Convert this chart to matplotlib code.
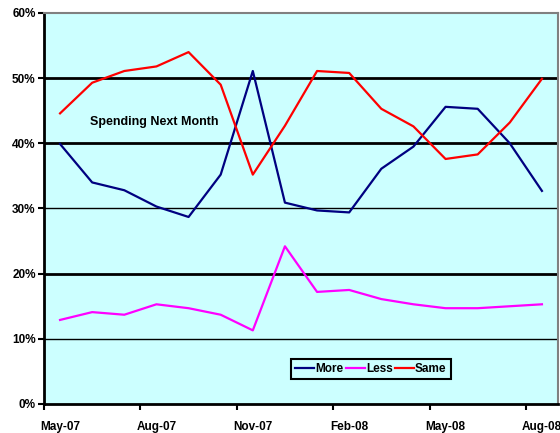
import matplotlib
matplotlib.use("Agg")
import matplotlib.pyplot as plt
import numpy as np

months = ["May-07", "Jun-07", "Jul-07", "Aug-07", "Sep-07", "Oct-07", "Nov-07", "Dec-07",
          "Jan-08", "Feb-08", "Mar-08", "Apr-08", "May-08", "Jun-08", "Jul-08", "Aug-08"]
more = [39.9, 34.0, 32.8, 30.3, 28.7, 35.2, 51.1, 30.9, 29.7, 29.4, 36.1, 39.5, 45.6, 45.3, 40.0, 32.7]
less = [12.9, 14.1, 13.7, 15.3, 14.7, 13.7, 11.3, 24.2, 17.2, 17.5, 16.1, 15.3, 14.7, 14.7, 15.0, 15.3]
same = [44.6, 49.3, 51.1, 51.8, 54.0, 49.0, 35.2, 42.7, 51.1, 50.8, 45.3, 42.6, 37.6, 38.3, 43.2, 49.9]

fnt = ["Liberation Sans", "DejaVu Sans"]

fig = plt.figure(figsize=(5.6, 4.33), dpi=100)
ax = fig.add_axes([44/560, 1 - 404/433, 514/560, 391/433])
ax.set_facecolor("#CCFFFF")

x = np.arange(len(months))
ax.plot(x, more, color="#000080", lw=1.6, label="More")
ax.plot(x, less, color="#FF00FF", lw=1.6, label="Less")
ax.plot(x, same, color="#FF0000", lw=1.6, label="Same")

# gridlines (some look heavier in the original)
for g, w in [(10, 1.0), (20, 2.0), (30, 1.0), (40, 2.0), (50, 2.0)]:
    ax.axhline(g, color="black", lw=w, zorder=1)

ax.set_xlim(-0.5, 15.5)
ax.set_ylim(0, 60)
ax.set_yticks(range(0, 61, 10))
ax.set_yticklabels([f"{v}%" for v in range(0, 61, 10)], family=fnt,
                   fontweight="bold", fontsize=8.5)
ax.set_xticks(np.arange(-0.5, 15, 3))
ax.set_xticklabels([])
ax.set_xticks(np.arange(0, 16, 3), minor=True)
ax.set_xticklabels([months[i] for i in range(0, 16, 3)], minor=True, family=fnt,
                   fontweight="bold", fontsize=8.5)
ax.tick_params(axis="x", which="minor", length=0, pad=12)
ax.tick_params(axis="x", which="major", length=4, width=1.5)
ax.tick_params(axis="y", length=4, width=1.5, pad=2)

for s in ["left", "bottom"]:
    ax.spines[s].set_linewidth(2)
    ax.spines[s].set_color("black")
for s in ["top", "right"]:
    ax.spines[s].set_linewidth(1.5)
    ax.spines[s].set_color("#808080")

ax.text(2.94, 43.2, "Spending Next Month", family=fnt, fontweight="bold",
        fontsize=9, ha="center", va="center")

leg = ax.legend(loc="lower left", bbox_to_anchor=(247/514, 25/391), ncol=3,
                prop={"family": fnt, "weight": "bold", "size": 8.5},
                frameon=True, fancybox=False, handlelength=1.6, handletextpad=0.1,
                columnspacing=0.2, borderpad=0.35, borderaxespad=0)
leg.get_frame().set_edgecolor("black")
leg.get_frame().set_linewidth(1.5)
leg.get_frame().set_facecolor("#CCFFFF")
leg.get_frame().set_alpha(1)

plt.savefig("out.png", dpi=100)
